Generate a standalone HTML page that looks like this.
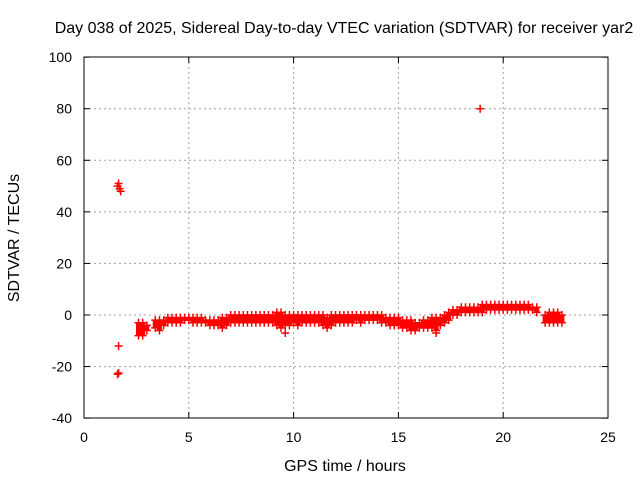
<!DOCTYPE html>
<html><head><meta charset="utf-8"><style>
body{margin:0;background:#fff}
svg{display:block;font-family:"Liberation Sans",sans-serif}
</style></head><body>
<svg id="c" width="640" height="480">
<rect width="640" height="480" fill="#fff"/>
<text x="344" y="33" font-size="16" text-anchor="middle">Day 038 of 2025, Sidereal Day-to-day VTEC variation (SDTVAR) for receiver yar2</text>
<text x="345" y="471" font-size="16" text-anchor="middle">GPS time / hours</text>
<text transform="translate(19,238) rotate(-90)" font-size="16" text-anchor="middle">SDTVAR / TECUs</text>
<g id="grid"></g><g id="marks"></g>
<rect x="84" y="57" width="524" height="361" fill="none" stroke="#000"/>
</svg>
<script>
const xTicks=[0,5,10,15,20,25];
const yTicks=[-40,-20,0,20,40,60,80,100];
const times=[2.6,2.8,3.0,3.4,3.6,3.8,4.0,4.2,4.4,4.6,4.8,5.0,5.2,5.4,5.6,5.8,6.0,6.2,6.4,6.6,6.8,7.0,7.2,7.4,7.6,7.8,8.0,8.2,8.4,8.6,8.8,9.0,9.2,9.4,9.6,9.8,10.0,10.2,10.4,10.6,10.8,11.0,11.2,11.4,11.6,11.8,12.0,12.2,12.4,12.6,12.8,13.0,13.2,13.4,13.6,13.8,14.0,14.2,14.4,14.6,14.8,15.0,15.2,15.4,15.6,15.8,16.0,16.2,16.4,16.6,16.8,17.0,17.2,17.4,17.6,17.8,18.0,18.2,18.4,18.6,18.8,19.0,19.2,19.4,19.6,19.8,20.0,20.2,20.4,20.6,20.8,21.0,21.2,21.4,21.6,22.0,22.2,22.4,22.6,22.8];
const upper=[-3,-3,-4,-2,-2,-2,-1,-1,-1,-1,-1,-1,-1,-1,-1,-2,-2,-2,-2,-1,-1,0,0,0,0,0,0,0,0,0,0,0,1,1,0,0,0,0,0,0,0,0,0,0,-1,0,0,0,0,0,0,0,0,0,0,0,0,0,-1,-1,-1,-1,-2,-2,-2,-3,-3,-2,-2,-1,-1,-1,0,1,2,2,3,3,3,3,3,4,4,4,4,4,4,4,4,4,4,4,4,3,3,0,1,1,1,0];
const lower=[-8,-8,-6,-5,-6,-4,-3,-3,-3,-3,-2,-2,-3,-3,-3,-3,-4,-4,-4,-5,-4,-3,-3,-3,-3,-3,-3,-3,-3,-3,-3,-3,-4,-5,-4,-4,-3,-4,-3,-3,-3,-3,-3,-4,-5,-4,-3,-3,-3,-3,-3,-2,-3,-2,-2,-2,-2,-3,-3,-4,-4,-4,-5,-5,-6,-6,-5,-5,-5,-5,-6,-4,-3,-2,0,0,1,1,1,1,1,1,2,2,2,2,2,2,2,2,2,2,2,2,1,-3,-3,-3,-3,-3];
const outT=[1.65,1.65,1.6,1.6,1.65,1.7,1.75,18.9,9.6,16.8];
const outV=[-12,-22.5,-23,50,51,49,48,80,-7,-7];
const X=t=>84+t*524/25, Y=v=>315-v*361/140;
const NS="http://www.w3.org/2000/svg";
function mk(p,tag,a){const e=document.createElementNS(NS,tag);for(const k in a)e.setAttribute(k,a[k]);p.appendChild(e);return e;}
const g=document.getElementById('grid'), m=document.getElementById('marks');
xTicks.forEach(t=>{const x=X(t);
 if(t>0&&t<25){const l=mk(g,'line',{x1:x,x2:x,y1:57,y2:418,stroke:'#a0a0a0','stroke-dasharray':'2,3'});
 
 }
 mk(g,'line',{x1:x,x2:x,y1:418,y2:412,stroke:'#000'});mk(g,'line',{x1:x,x2:x,y1:57,y2:63,stroke:'#000'});
 const tx=mk(g,'text',{x:x,y:442,'font-size':14,'text-anchor':'middle'});tx.textContent=t;
 
 });
yTicks.forEach(v=>{const y=Y(v);
 if(v>-40&&v<100){const l=mk(g,'line',{x1:84,x2:608,y1:y,y2:y,stroke:'#a0a0a0','stroke-dasharray':'2,3'});
 
 }
 mk(g,'line',{x1:84,x2:90,y1:y,y2:y,stroke:'#000'});mk(g,'line',{x1:608,x2:602,y1:y,y2:y,stroke:'#000'});
 const tx=mk(g,'text',{x:72,y:y+5,'font-size':14,'text-anchor':'end'});tx.textContent=v;
 
 });
function plus(t,v){const x=X(t),y=Y(v);
 const p=mk(m,'path',{d:`M${x-4} ${y}h8M${x} ${y-4}v8`,stroke:'#f00','stroke-width':1.5});
 
 }
times.forEach((t,i)=>{
 const r=mk(m,'rect',{x:X(t)-2.5,y:Y(upper[i]),width:5,height:Y(lower[i])-Y(upper[i]),fill:'#f00'});
 
 
 plus(t,upper[i]);plus(t,lower[i]);});
outT.forEach((t,i)=>plus(t,outV[i]));
</script>
</body></html>
